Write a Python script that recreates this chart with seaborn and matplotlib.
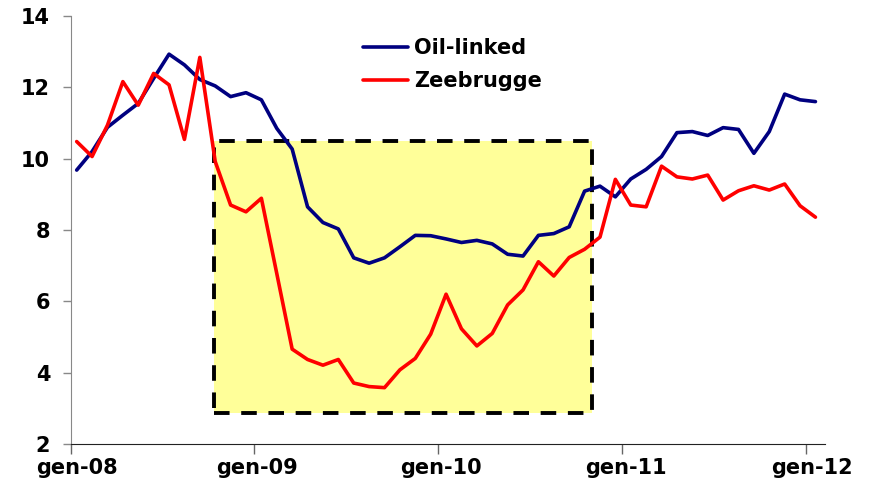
import numpy as np
import pandas as pd
import matplotlib
matplotlib.use("Agg")
import matplotlib.pyplot as plt
import seaborn as sns
from matplotlib.patches import Rectangle

# monthly prices, gen-08 .. gen-12
months = pd.period_range("2008-01", "2012-01", freq="M").strftime("%b-%y").tolist()
oil_linked = [9.68, 10.20, 10.88, 11.22, 11.55, 12.25, 12.93, 12.63, 12.22, 12.04, 11.74, 11.85,
              11.65, 10.85, 10.27, 8.65, 8.21, 8.03, 7.22, 7.07, 7.22, 7.53, 7.85, 7.84,
              7.75, 7.65, 7.71, 7.61, 7.32, 7.27, 7.85, 7.90, 8.09, 9.09, 9.23, 8.93,
              9.43, 9.70, 10.06, 10.73, 10.76, 10.65, 10.87, 10.82, 10.15, 10.76, 11.81, 11.65,
              11.60]
zeebrugge = [10.48, 10.06, 10.94, 12.16, 11.50, 12.39, 12.07, 10.54, 12.84, 9.92, 8.70, 8.51,
             8.89, 6.78, 4.66, 4.37, 4.21, 4.37, 3.71, 3.61, 3.58, 4.08, 4.40, 5.08,
             6.20, 5.23, 4.75, 5.10, 5.90, 6.32, 7.11, 6.71, 7.23, 7.46, 7.80, 9.42,
             8.70, 8.65, 9.79, 9.49, 9.43, 9.54, 8.84, 9.10, 9.24, 9.12, 9.29, 8.68,
             8.36]
series_names = ["Oil-linked", "Zeebrugge"]
tick_labels = ["gen-08", "gen-09", "gen-10", "gen-11", "gen-12"]

df = pd.DataFrame({
    "idx": list(range(len(months))) * 2,
    "price": oil_linked + zeebrugge,
    "series": [series_names[0]] * len(months) + [series_names[1]] * len(months),
})

sns.set_style("ticks")
plt.rcParams["font.family"] = ["DejaVu Sans"]
plt.rcParams["font.weight"] = "bold"
plt.rcParams["text.color"] = "black"
fs = 15

fig = plt.figure(figsize=(8.69, 4.91), dpi=100)
ax = fig.add_axes([0.0817, 0.0957, 0.8673, 0.8717])

# highlighted period
box = Rectangle((8.92, 2.88), 33.5 - 8.92, 10.50 - 2.88, facecolor="#FFFF99",
                edgecolor="black", linewidth=2.8, linestyle=(0, (4, 3)), zorder=1)
ax.add_patch(box)

sns.lineplot(data=df, x="idx", y="price", hue="series", palette=["#000080", "#FF0000"],
             linewidth=2.6, ax=ax, zorder=3)

ax.set_xlim(-0.37, 48.6)
ax.set_ylim(2, 14)
ax.set_yticks(np.arange(2, 15, 2))
ax.set_xlabel("")
ax.set_ylabel("")

# tick marks sit just left of the month, labels under the month
ax.set_xticks([-0.37, 11.51, 23.46, 35.41, 47.36])
ax.set_xticks([0.02, 11.71, 23.66, 35.67, 47.75], minor=True)
ax.set_xticklabels(tick_labels, minor=True)
ax.tick_params(axis="x", which="major", labelbottom=False, length=7, width=1, color="#666666")
ax.tick_params(axis="x", which="minor", length=0, pad=10, labelsize=fs, labelcolor="black")
ax.tick_params(axis="y", length=6, width=1, color="#888888", pad=9, labelsize=fs,
               labelcolor="black")
for lab in ax.get_xticklabels(minor=True) + ax.get_yticklabels():
    lab.set_fontweight("bold")

sns.despine(ax=ax)
ax.spines["left"].set_color("#888888")
ax.spines["bottom"].set_color("#222222")

leg = ax.legend(loc="upper left", bbox_to_anchor=(363 / 869, 1 - 38 / 491),
                bbox_transform=fig.transFigure, frameon=False, borderpad=0,
                borderaxespad=0, handlelength=2.15, handletextpad=0.3,
                labelspacing=0.62, prop={"size": fs, "weight": "bold"})
for t in leg.get_texts():
    t.set_color("black")

fig.savefig("out.png", dpi=100)
